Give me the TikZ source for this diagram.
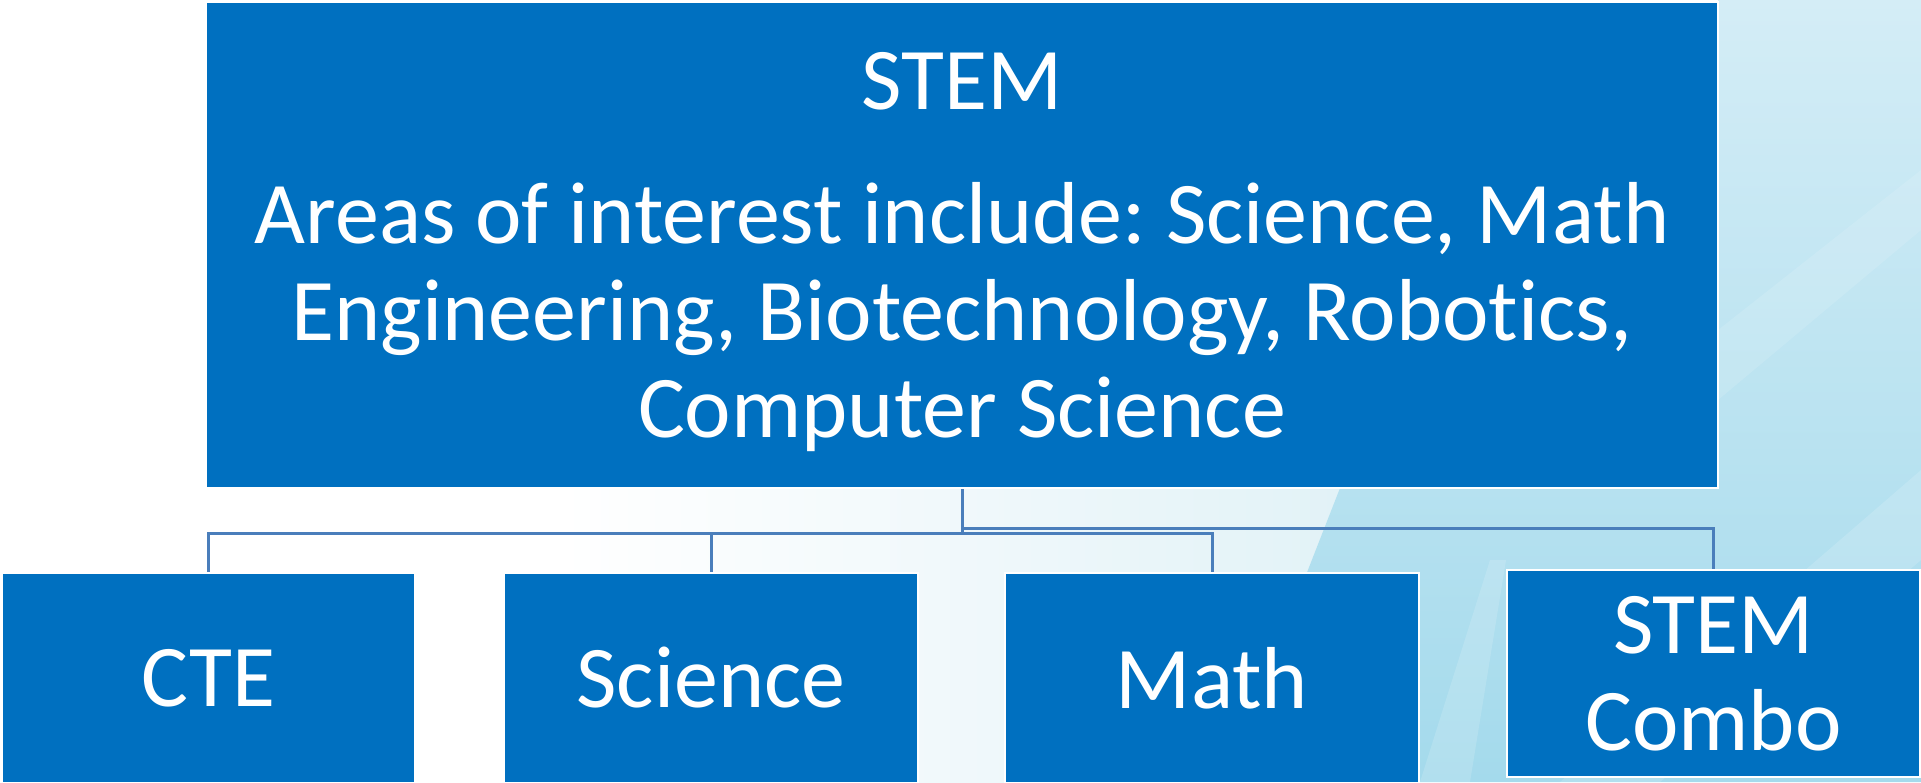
\documentclass[tikz,border=0pt]{standalone}
\usepackage{fontspec}
\setmainfont{Carlito}[Ligatures=NoCommon]
\frenchspacing
\definecolor{boxblue}{RGB}{0,112,192}
\definecolor{linkblue}{RGB}{74,126,187}
\definecolor{bgblue}{RGB}{164,218,236}
\definecolor{bglight}{RGB}{212,237,246}
\definecolor{bgpale}{RGB}{226,242,247}
\tikzset{
  unit/.style={draw=white, line width=0.6pt, fill=boxblue, text=white, inner sep=0pt,
    align=center, font=\fontsize{26.4}{29.1}\selectfont},
  child/.style={unit, minimum width=124pt, minimum height=63pt},
  link/.style={draw=linkblue, line width=0.9pt}
}
\begin{document}
\begin{tikzpicture}[x=0.3pt,y=-0.3pt]
        \useasboundingbox (0,0) rectangle (1921,782);
        \clip (0,0) rectangle (1921,782);
        % background
        \fill[white] (0,0) rectangle (1921,782);
        \shade[left color=white, right color=bgpale] (560,488) rectangle (1340,782);
        \shade[top color=bglight, bottom color=bgblue] (1718,0) -- (1921,0) -- (1921,782)
            -- (1225,782) -- (1340,488) -- (1718,488) -- cycle;
        \fill[white, opacity=0.15] (1560,782) -- (1921,470) -- (1921,560) -- (1660,782) -- cycle;
        \fill[white, opacity=0.12] (1718,330) -- (1921,170) -- (1921,230) -- (1718,400) -- cycle;
        \fill[white, opacity=0.15] (1420,782) -- (1490,560) -- (1506,560) -- (1470,782) -- cycle;
        % boxes
        \node[unit, minimum width=453.6pt, minimum height=145.8pt, text depth=0pt] (top) at (962,245)
            {STEM\\[11.1pt]Areas of interest include: Science, Math\\
             Engineering, Biotechnology, Robotics,\\Computer Science};
        \foreach \n/\x/\t in {cte/208.5/CTE, sci/711/Science, math/1212/Math} {
                \node[child] (\n) at (\x,678) {\t};
            }
        \node[child, minimum height=62.1pt] (combo) at (1713.5,673.5) {STEM\\Combo};
        % connectors
        \foreach \n in {cte,sci,math} {
                \draw[link] (top.south) -- ++(0,44) -| (\n.north);
            }
        \draw[link] (top.south) -- ++(0,39) -| (combo.north);
    \end{tikzpicture}
\end{document}
